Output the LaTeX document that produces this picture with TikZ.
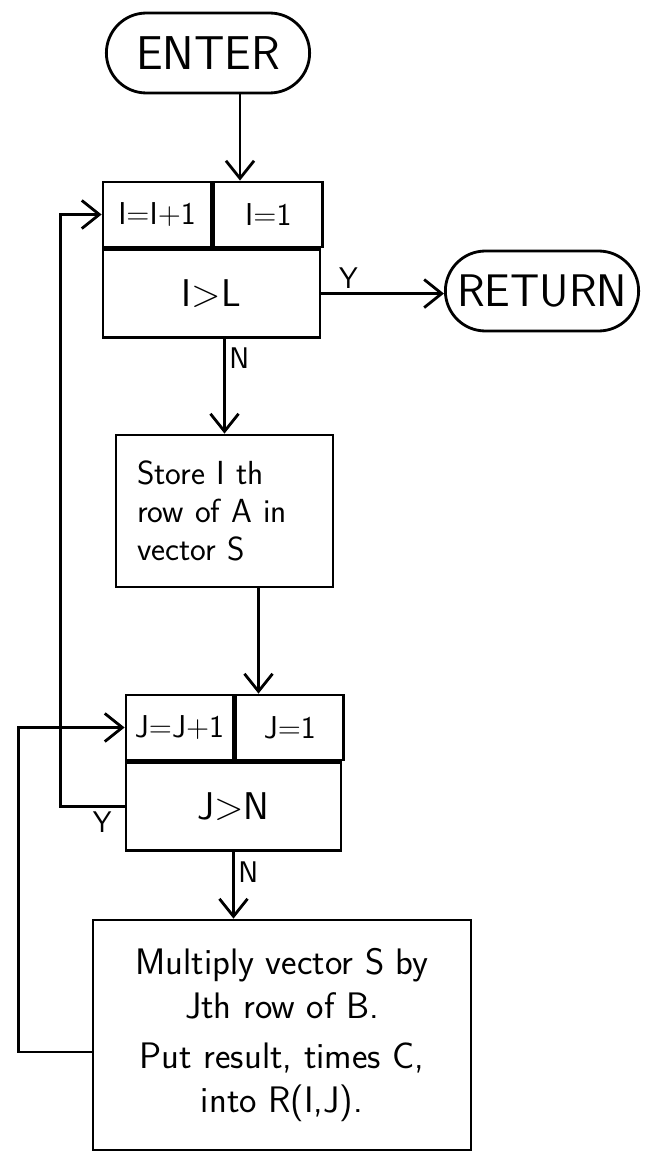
\documentclass[tikz,border=0pt]{standalone}
\usetikzlibrary{shapes.misc,arrows.meta,calc}
\begin{document}
\begin{tikzpicture}[x=0.02cm, y=0.02cm, >={Straight Barb[length=10pt,width=16pt]}, line width=1.6pt,
	every node/.style={font=\sffamily},
	term/.style={draw, rounded rectangle, minimum width=4.3cm, minimum height=1.6cm, font=\sffamily\fontsize{27}{30}\selectfont},
	cell/.style={draw, rectangle, inner sep=0pt, minimum height=1.3cm, font=\sffamily\fontsize{18}{20}\selectfont},
	test/.style={draw, rectangle, inner sep=0pt, minimum height=1.75cm, font=\sffamily\fontsize{22}{24}\selectfont},
	lbl/.style={font=\sffamily\fontsize{17}{18}\selectfont, inner sep=2pt}]
	
	\useasboundingbox (0,0) rectangle (648,-1155);
	
	% ==================== 1：起止框 ====================
	\node[term] (enter) at (208,-53) {ENTER};
	\node[term, minimum width=4.1cm, font=\sffamily\fontsize{26}{30}\selectfont] (ret) at (542,-291) {RETURN};
	
	% ==================== 2：外层循环（I） ====================
	\node[cell, minimum width=2.16cm] (inc1) at (157,-214.5) {I=I+1};
	\node[cell, minimum width=2.18cm, anchor=west] (init1) at (inc1.east) {I=1};
	\node[test, minimum width=4.34cm, anchor=north west] (test1) at (inc1.south west) {I>L};
	
	\node[draw, rectangle, minimum width=4.34cm, minimum height=3.04cm, text width=3.5cm, inner xsep=0.42cm,
		align=left, font=\sffamily\fontsize{19}{21.5}\selectfont] (store) at (224.5,-511)
		{Store I th\\row of A in\\vector S};
	
	% ==================== 3：内层循环（J） ====================
	\node[cell, minimum width=2.14cm] (inc2) at (179.5,-727.5) {J=J+1};
	\node[cell, minimum width=2.16cm, anchor=west] (init2) at (inc2.east) {J=1};
	\node[test, minimum width=4.3cm, anchor=north west] (test2) at (inc2.south west) {J>N};
	
	\node[draw, rectangle, minimum width=7.56cm, minimum height=4.6cm, align=center,
		font=\sffamily\fontsize{21}{25}\selectfont] (mult) at (282,-1035)
		{Multiply vector S by\\Jth row of B.\\[3pt]Put result, times C,\\into R(I,J).};
	
	% ==================== 4：连线 ====================
	\coordinate (e1) at ($(enter.south)+(32,0)$);
	\draw[->] (e1) -- (e1 |- init1.north);
	\draw[->] (test1.east) -- node[lbl, above, pos=0.22] {Y} (test1.east -| ret.west);
	\draw[->] (test1.south -| store.north) -- node[lbl, right, pos=0.2] {N} (store.north);
	
	\coordinate (s1) at ($(store.south)+(34,0)$);
	\draw[->] (s1) -- (s1 |- init2.north);
	\draw[->] (test2.south) -- node[lbl, right, pos=0.3] {N} (test2.south |- mult.north);
	
	% 回到外层循环
	\draw[->] (test2.west) -- node[lbl, below, pos=0.35] {Y} ++(-64,0) |- (inc1.west);
	
	% 回到内层循环
	\coordinate (m1) at ($(mult.west)+(0,-17)$);
	\draw[->] (m1) -- ++(-73,0) |- (inc2.west);
	
\end{tikzpicture}
\end{document}
